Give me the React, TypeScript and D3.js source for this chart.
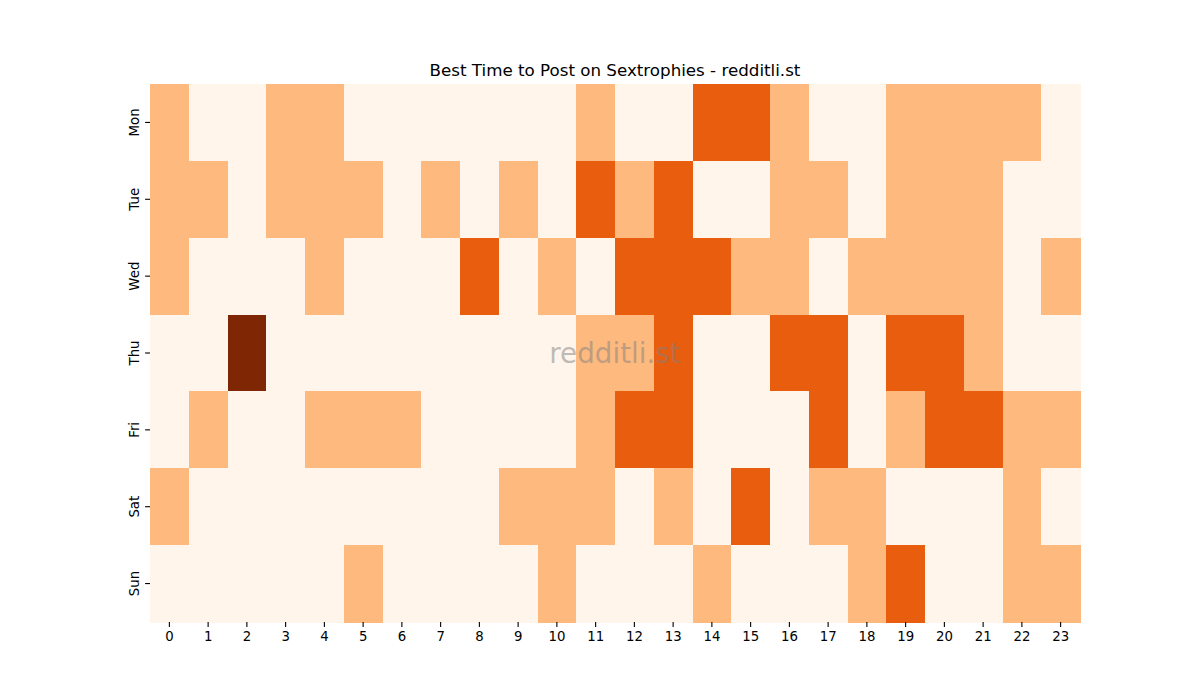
import * as d3 from 'd3';
import { useEffect, useRef } from 'react';

const days = ['Mon', 'Tue', 'Wed', 'Thu', 'Fri', 'Sat', 'Sun'];
const hours = d3.range(24).map(String);

// activity level per hour, one array per day
const mon = [1, 0, 0, 1, 1, 0, 0, 0, 0, 0, 0, 1, 0, 0, 2, 2, 1, 0, 0, 1, 1, 1, 1, 0];
const tue = [1, 1, 0, 1, 1, 1, 0, 1, 0, 1, 0, 2, 1, 2, 0, 0, 1, 1, 0, 1, 1, 1, 0, 0];
const wed = [1, 0, 0, 0, 1, 0, 0, 0, 2, 0, 1, 0, 2, 2, 2, 1, 1, 0, 1, 1, 1, 1, 0, 1];
const thu = [0, 0, 3, 0, 0, 0, 0, 0, 0, 0, 0, 1, 1, 2, 0, 0, 2, 2, 0, 2, 2, 1, 0, 0];
const fri = [0, 1, 0, 0, 1, 1, 1, 0, 0, 0, 0, 1, 2, 2, 0, 0, 0, 2, 0, 1, 2, 2, 1, 1];
const sat = [1, 0, 0, 0, 0, 0, 0, 0, 0, 1, 1, 1, 0, 1, 0, 2, 0, 1, 1, 0, 0, 0, 1, 0];
const sun = [0, 0, 0, 0, 0, 1, 0, 0, 0, 0, 1, 0, 0, 0, 1, 0, 0, 0, 1, 2, 0, 0, 1, 1];
const rows = [mon, tue, wed, thu, fri, sat, sun];

const App = () => {
    const svgRef = useRef<SVGSVGElement>(null);

    useEffect(() => {
        const width = 1200;
        const height = 700;
        const left = 150;
        const right = 1080;
        const top = 84;
        const bottom = 622;

        const svg = d3.select(svgRef.current);
        svg.selectAll('*').remove();
        svg.attr('width', width).attr('height', height).style('font-family', 'DejaVu Sans');

        const x = d3.scaleBand().domain(hours).range([left, right]);
        const y = d3.scaleBand().domain(days).range([top, bottom]);

        const color = d3
            .scaleSequential(d3.interpolateRgbBasis(['#fff5eb', '#fee6ce', '#fdd0a2', '#fdae6b', '#fd8d3c', '#f16913', '#d94801', '#a63603', '#7f2704']))
            .domain([0, 3]);

        const cells = rows.flatMap((row, i) => row.map((v, j) => ({ day: days[i], hour: hours[j], v })));

        svg.append('g')
            .selectAll('rect')
            .data(cells)
            .enter()
            .append('rect')
            .attr('x', (d) => x(d.hour)!)
            .attr('y', (d) => y(d.day)!)
            .attr('width', x.bandwidth() + 0.5)
            .attr('height', y.bandwidth() + 0.5)
            .attr('fill', (d) => color(d.v))
            .attr('shape-rendering', 'crispEdges');

        // x축
        const xAxis = svg
            .append('g')
            .attr('transform', `translate(0, ${bottom})`)
            .call(d3.axisBottom(x).tickSize(4.9).tickPadding(4.5))
            .attr('font-size', 13.3)
            .attr('font-family', 'DejaVu Sans');
        xAxis.select('.domain').remove();
        xAxis.selectAll('text').attr('fill', '#000');
        xAxis.selectAll('line').attr('stroke', '#000').attr('stroke-width', 1.1);

        // y축 (세로 라벨)
        const yAxis = svg
            .append('g')
            .attr('transform', `translate(${left}, 0)`)
            .call(d3.axisLeft(y).tickSize(4.9).tickPadding(4.9))
            .attr('font-size', 13.3)
            .attr('font-family', 'DejaVu Sans');
        yAxis.select('.domain').remove();
        yAxis.selectAll('line').attr('stroke', '#000').attr('stroke-width', 1.1);
        yAxis
            .selectAll('text')
            .attr('fill', '#000')
            .attr('x', null)
            .attr('dy', null)
            .attr('text-anchor', 'middle')
            .attr('transform', 'translate(-11.5, 0) rotate(-90)');

        svg.append('text')
            .attr('x', (left + right) / 2)
            .attr('y', top - 8.5)
            .attr('text-anchor', 'middle')
            .style('font-size', '16.7px')
            .text('Best Time to Post on Sextrophies - redditli.st');

        // 워터마크
        svg.append('text')
            .attr('x', (left + right) / 2)
            .attr('y', (top + bottom) / 2)
            .attr('text-anchor', 'middle')
            .attr('dominant-baseline', 'central')
            .style('font-size', '27.8px')
            .attr('fill', '#808080')
            .attr('fill-opacity', 0.5)
            .text('redditli.st');
    }, []);

    return <svg ref={svgRef} style={{ position: 'absolute', left: 0, top: 0 }} />;
};

export default App;
